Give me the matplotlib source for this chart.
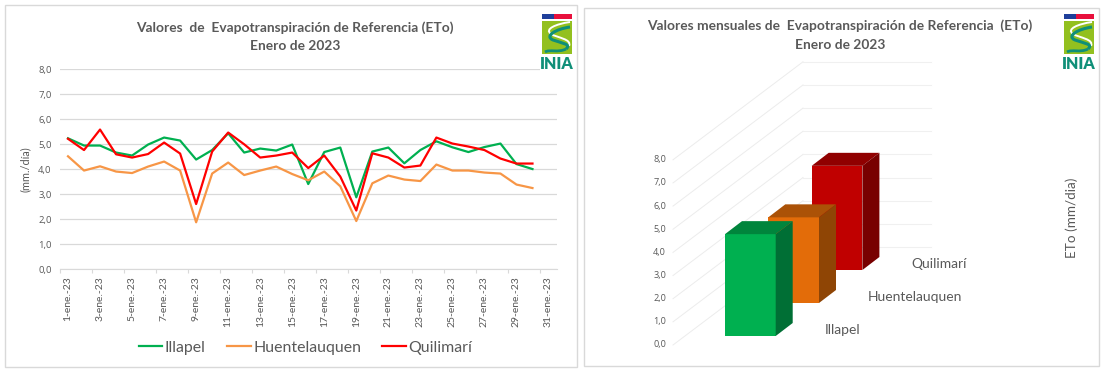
import matplotlib
matplotlib.use("Agg")
import matplotlib.pyplot as plt
from matplotlib.patches import Rectangle, Polygon, PathPatch
from matplotlib.path import Path

plt.rcParams['font.family'] = ['Lato', 'DejaVu Sans']

W, H = 1106, 372
GRAY = '#595959'
GRID = '#d9d9d9'

# daily values
days = list(range(1, 31))
illapel = [5.24, 4.95, 4.95, 4.67, 4.55, 4.99, 5.27, 5.15, 4.39, 4.77, 5.44, 4.67, 4.83, 4.75, 4.99,
           3.41, 4.69, 4.87, 2.88, 4.71, 4.87, 4.24, 4.77, 5.12, 4.88, 4.69, 4.89, 5.03, 4.21, 4.01]
huentelauquen = [4.52, 3.95, 4.12, 3.91, 3.85, 4.11, 4.31, 3.95, 1.88, 3.83, 4.27, 3.77, 3.95, 4.11, 3.81,
                 3.56, 3.91, 3.32, 1.93, 3.44, 3.75, 3.59, 3.53, 4.19, 3.95, 3.95, 3.87, 3.83, 3.39, 3.25]
quilimari = [5.22, 4.77, 5.59, 4.60, 4.47, 4.61, 5.07, 4.63, 2.61, 4.71, 5.47, 5.00, 4.47, 4.55, 4.67,
             4.05, 4.55, 3.71, 2.35, 4.64, 4.47, 4.07, 4.15, 5.27, 5.03, 4.91, 4.77, 4.43, 4.23, 4.23]
tick_days = list(range(1, 32, 2))
y_ticks = [0, 1, 2, 3, 4, 5, 6, 7, 8]

# monthly values
stations = ['Illapel', 'Huentelauquen', 'Quilimarí']
monthly = [4.4, 3.7, 4.5]
front_colors = ['#00b050', '#e36c09', '#c00000']
top_colors = ['#00853c', '#ab5207', '#900000']
side_colors = ['#006f35', '#8f4505', '#780000']


def dec(v):
    return f'{v:.1f}'.replace('.', ',')


def draw_logo(ax, x0):
    codes = [Path.MOVETO, Path.CURVE4, Path.CURVE4, Path.CURVE4, Path.CURVE4, Path.CURVE4, Path.CURVE4]
    ax.add_patch(Rectangle((x0 - 2, 10), 34, 63, fc='white', ec='none', zorder=5))
    ax.add_patch(Rectangle((x0, 14), 12, 5, fc='#1f3f9a', ec='none', zorder=6))
    ax.add_patch(Rectangle((x0 + 12, 14), 18, 5, fc='#e8103c', ec='none', zorder=6))
    ax.add_patch(Rectangle((x0, 21), 30, 33, fc='#93c01f', ec='none', zorder=6))
    s1 = Path([(x0 + 28, 22), (x0 + 14, 24), (x0 + 2, 29), (x0 + 9, 34),
               (x0 + 16, 38), (x0 + 30, 39), (x0 + 27, 46)], codes)
    s2 = Path([(x0 + 28, 27), (x0 + 14, 29), (x0 + 2, 36), (x0 + 11, 40),
               (x0 + 19, 43), (x0 + 30, 44), (x0 + 24, 49)], codes)
    ax.add_patch(PathPatch(s1, fc='none', ec='white', lw=1.4, zorder=7))
    ax.add_patch(PathPatch(s2, fc='none', ec='#0f8f78', lw=2.2, zorder=7))
    ax.add_patch(PathPatch(Path([(x0 + 24, 49), (x0 + 16, 53), (x0 + 8, 49), (x0 + 3, 52)],
                                [Path.MOVETO, Path.CURVE4, Path.CURVE4, Path.CURVE4]),
                           fc='none', ec='#0f8f78', lw=2.0, zorder=7))
    ax.text(x0 + 15, 64, 'INIA', color='#0f8f78', fontsize=11.5, fontweight='heavy', ha='center', va='center',
            zorder=7)


fig = plt.figure(figsize=(W / 100, H / 100), dpi=100, facecolor='white')

# pixel canvas for the panels and the pseudo-3D chart
bg = fig.add_axes([0, 0, 1, 1], zorder=0)
bg.set_xlim(0, W)
bg.set_ylim(H, 0)
bg.axis('off')
bg.add_patch(Rectangle((5, 5), 572, 362, fc='white', ec=GRID, lw=1))
bg.add_patch(Rectangle((584, 8), 515, 358, fc='white', ec=GRID, lw=1))

bg.text(295, 28, 'Valores  de  Evapotranspiración de Referencia (ETo)', color=GRAY, fontsize=9.9,
        fontweight='bold', ha='center', va='center')
bg.text(295, 46, 'Enero de 2023', color=GRAY, fontsize=9.9, fontweight='bold', ha='center', va='center')
bg.text(840, 26, 'Valores mensuales de  Evapotranspiración de Referencia  (ETo)', color=GRAY, fontsize=9.9,
        fontweight='bold', ha='center', va='center')
bg.text(840, 45, 'Enero de 2023', color=GRAY, fontsize=9.9, fontweight='bold', ha='center', va='center')

# left chart
ax = fig.add_axes([60 / W, 1 - 269.3 / H, 496.5 / W, 200 / H], zorder=1)
ax.patch.set_alpha(0)
ax.plot(days, illapel, color='#00b050', lw=1.6, label='Illapel', zorder=3)
ax.plot(days, huentelauquen, color='#f79646', lw=1.6, label='Huentelauquen', zorder=3)
ax.plot(days, quilimari, color='#ff0000', lw=1.6, label='Quilimarí', zorder=4)
ax.set_xlim(0.5, 31.5)
ax.set_ylim(0, 8)
ax.set_yticks(y_ticks)
ax.set_yticklabels([dec(v) for v in y_ticks], color=GRAY, fontsize=6.8, family=['Open Sans', 'DejaVu Sans'])
ax.set_xticks([d - 0.5 for d in tick_days])
ax.set_xticklabels([])
ax.set_xticks(tick_days, minor=True)
ax.set_xticklabels([f'{d}-ene.-23' for d in tick_days], minor=True, rotation=90, color=GRAY, fontsize=7.5)
ax.tick_params(axis='x', which='major', length=3, color=GRID, width=0.8)
ax.tick_params(axis='x', which='minor', length=0, pad=5)
ax.tick_params(axis='y', length=0, pad=6)
ax.grid(axis='y', color=GRID, lw=0.9)
ax.set_axisbelow(True)
for name, spine in ax.spines.items():
    spine.set_visible(name == 'bottom')
    spine.set_color(GRID)
ax.set_ylabel('(mm./día)', color=GRAY, fontsize=7.8, labelpad=5)
ax.legend(loc='center', bbox_to_anchor=(305.5 / W, 1 - 348 / H), bbox_transform=fig.transFigure, ncol=3, frameon=False,
          fontsize=11.4, labelcolor=GRAY, handlelength=1.5, handletextpad=0.15, columnspacing=1.35)

# right chart, bars projected by hand
UNIT = 23.15
X_LEFT, Y_ZERO = 673, 345
DX, DY = 17, 13
WALL_X0, WALL_Y0, WALL_X1 = 803, 247, 931
BAR_W = 50.7
BAR_X = [725, 768.3, 811.7]
BAR_Y = [336, 303, 270]
LABEL_POS = [(843, 330), (915, 297), (939, 264)]

for v in y_ticks:
    bg.plot([X_LEFT, WALL_X0], [Y_ZERO - UNIT * v, WALL_Y0 - UNIT * v], color='#ececec', lw=0.7, zorder=1)
    bg.plot([WALL_X0, WALL_X1], [WALL_Y0 - UNIT * v, WALL_Y0 - UNIT * v], color='#f0f0f0', lw=0.8, zorder=1)
    bg.text(666, Y_ZERO - UNIT * v, dec(v), color=GRAY, fontsize=6.6, ha='right', va='center',
            family=['Open Sans', 'DejaVu Sans'])

for i in [2, 1, 0]:
    x0, y0, h = BAR_X[i], BAR_Y[i], monthly[i] * UNIT
    x1, y1 = x0 + BAR_W, y0 - h
    bg.add_patch(Rectangle((x0, y1), BAR_W, h, fc=front_colors[i], ec='none', zorder=3))
    bg.add_patch(Polygon([(x0, y1), (x1, y1), (x1 + DX, y1 - DY), (x0 + DX, y1 - DY)], fc=top_colors[i], ec='none', zorder=3))
    bg.add_patch(Polygon([(x1, y1), (x1 + DX, y1 - DY), (x1 + DX, y0 - DY), (x1, y0)], fc=side_colors[i], ec='none', zorder=3))
    bg.text(LABEL_POS[i][0], LABEL_POS[i][1], stations[i], color=GRAY, fontsize=10, ha='center', va='center', zorder=4)

bg.text(1072, 218, 'ETo (mm/dia)', color=GRAY, fontsize=9.7, rotation=90, ha='center', va='center')

# logos sit above the gridlines
top = fig.add_axes([0, 0, 1, 1], zorder=2)
top.set_xlim(0, W)
top.set_ylim(H, 0)
top.axis('off')
draw_logo(top, 542)
draw_logo(top, 1064)

fig.savefig('out.png', dpi=100)
